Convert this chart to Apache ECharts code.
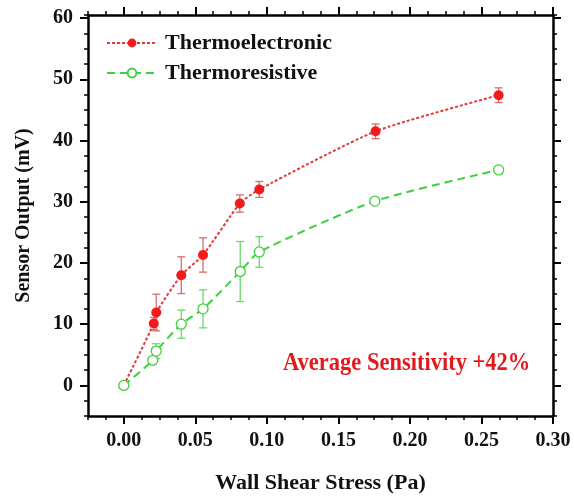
<!DOCTYPE html>
<html>
<head>
<meta charset="utf-8">
<script src="https://cdn.jsdelivr.net/npm/echarts@6/dist/echarts.min.js"></script>
<style>
  html, body { margin: 0; padding: 0; background: #fff; }
  #chart { width: 574px; height: 499px; }
</style>
</head>
<body>
<div id="chart"></div>
<script>
// Wall shear stress (Pa) for each measurement
const stressTE = [0, 0.021, 0.0227, 0.0402, 0.0554, 0.0811, 0.0947, 0.176, 0.262];
const outputTE = [0, 10.1, 11.9, 18.0, 21.3, 29.7, 32.0, 41.5, 47.4];
const errTE    = [0, 1.0, 3.0, 3.0, 2.8, 1.4, 1.3, 1.2, 1.2];

const stressTR = [0, 0.0203, 0.0227, 0.0402, 0.0554, 0.0814, 0.0947, 0.1755, 0.262];
const outputTR = [0, 4.1, 5.6, 10.0, 12.5, 18.6, 21.8, 30.1, 35.2];
const errTR    = [0, 0.5, 1.2, 2.3, 3.1, 4.9, 2.5, 0.4, 0.4];

const xTicks = [0, 0.05, 0.10, 0.15, 0.20, 0.25, 0.30];
const yTicks = [0, 10, 20, 30, 40, 50, 60];

const FONT = '"Liberation Serif", "Times New Roman", serif';
const X_MIN = -0.025, X_MAX = 0.3, Y_MIN = -5, Y_MAX = 60.5;

const pairs = (xs, ys) => xs.map((x, i) => [x, ys[i]]);
const errRows = (xs, ys, es) => xs.map((x, i) => [x, ys[i] - es[i], ys[i] + es[i]]);

function errorBar(color) {
  return function (params, api) {
    const x = api.value(0);
    const lo = api.coord([x, api.value(1)]);
    const hi = api.coord([x, api.value(2)]);
    const cap = 4;
    const style = { stroke: color, lineWidth: 1.3, fill: null };
    return {
      type: 'group',
      children: [
        { type: 'line', shape: { x1: lo[0], y1: lo[1], x2: hi[0], y2: hi[1] }, style },
        { type: 'line', shape: { x1: lo[0] - cap, y1: lo[1], x2: lo[0] + cap, y2: lo[1] }, style },
        { type: 'line', shape: { x1: hi[0] - cap, y1: hi[1], x2: hi[0] + cap, y2: hi[1] }, style }
      ]
    };
  };
}

const frameLine = { show: true, onZero: false, lineStyle: { color: '#000', width: 2.5 } };
const hiddenLine = { show: false, onZero: false };
const labelStyle = { color: '#111', fontFamily: FONT, fontWeight: 'bold', fontSize: 20 };
const titleStyle = { color: '#111', fontFamily: FONT, fontWeight: 'bold' };

// Each frame side: one axis carrying the minor ticks, one overlay carrying the major ticks
function xPair(position, withLabels) {
  return [
    {
      type: 'value', gridIndex: 0, position, min: X_MIN, max: X_MAX, interval: 0.0125,
      axisLine: frameLine, splitLine: { show: false },
      axisTick: { show: true, inside: false, length: 4, lineStyle: { color: '#000', width: 1.5 } },
      axisLabel: withLabels
        ? Object.assign({ show: true, margin: 15, customValues: xTicks, formatter: v => v.toFixed(2) }, labelStyle)
        : { show: false },
      name: withLabels ? 'Wall Shear Stress (Pa)' : '',
      nameLocation: 'middle', nameGap: 56,
      nameTextStyle: Object.assign({ fontSize: 22 }, titleStyle)
    },
    {
      type: 'value', gridIndex: 0, position, min: X_MIN, max: X_MAX,
      axisLine: hiddenLine, splitLine: { show: false },
      axisTick: { show: true, inside: false, length: 8, customValues: xTicks, lineStyle: { color: '#000', width: 2 } },
      axisLabel: { show: false }
    }
  ];
}

function yPair(position, withLabels) {
  return [
    {
      type: 'value', gridIndex: 0, position, min: Y_MIN, max: Y_MAX, interval: 2.5,
      axisLine: frameLine, splitLine: { show: false },
      axisTick: { show: true, inside: false, length: 4, lineStyle: { color: '#000', width: 1.5 } },
      axisLabel: withLabels
        ? Object.assign({ show: true, margin: 15, customValues: yTicks }, labelStyle)
        : { show: false },
      name: withLabels ? 'Sensor Output (mV)' : '',
      nameLocation: 'middle', nameGap: 54, nameRotate: 90,
      nameTextStyle: Object.assign({ fontSize: 20 }, titleStyle)
    },
    {
      type: 'value', gridIndex: 0, position, min: Y_MIN, max: Y_MAX,
      axisLine: hiddenLine, splitLine: { show: false },
      axisTick: { show: true, inside: false, length: 8, customValues: yTicks, lineStyle: { color: '#000', width: 2 } },
      axisLabel: { show: false }
    }
  ];
}

const RED = '#f21b1b';
const GREEN = '#3fd03f';

const chart = echarts.init(document.getElementById('chart'), null, { renderer: 'canvas' });
chart.setOption({
  animation: false,
  backgroundColor: '#fff',
  grid: { left: 88, right: 21, top: 15, bottom: 79, containLabel: false },
  xAxis: [...xPair('bottom', true), ...xPair('top', false)],
  yAxis: [...yPair('left', true), ...yPair('right', false)],
  legend: {
    left: 101, top: 27, orient: 'vertical', itemWidth: 50, itemHeight: 11, itemGap: 8,
    textStyle: { color: '#111', fontFamily: FONT, fontWeight: 'bold', fontSize: 22, lineHeight: 22, padding: [0, 0, 0, 3] },
    data: ['Thermoelectronic', 'Thermoresistive']
  },
  graphic: [{
    type: 'text', x: 283, y: 363, scaleY: 1.12,
    style: { text: 'Average Sensitivity +42%', fill: '#e3191b', font: 'bold 22.5px ' + FONT, verticalAlign: 'middle' }
  }],
  series: [
    {
      type: 'custom', name: 'errTE', xAxisIndex: 0, yAxisIndex: 0,
      renderItem: errorBar('#e06a6a'), data: errRows(stressTE, outputTE, errTE), z: 2,
      encode: { x: 0, y: [1, 2] }
    },
    {
      type: 'custom', name: 'errTR', xAxisIndex: 0, yAxisIndex: 0,
      renderItem: errorBar('#6ad86a'), data: errRows(stressTR, outputTR, errTR), z: 2,
      encode: { x: 0, y: [1, 2] }
    },
    {
      type: 'line', name: 'Thermoelectronic', xAxisIndex: 0, yAxisIndex: 0,
      data: pairs(stressTE, outputTE), smooth: 0.2, z: 3,
      symbol: 'circle', symbolSize: 10,
      itemStyle: { color: RED },
      lineStyle: { color: '#e23a3a', width: 2, type: [3, 2] }
    },
    {
      type: 'line', name: 'Thermoresistive', xAxisIndex: 0, yAxisIndex: 0,
      data: pairs(stressTR, outputTR), smooth: 0.2, z: 4,
      symbol: 'circle', symbolSize: 10,
      itemStyle: { color: '#fff', borderColor: GREEN, borderWidth: 1.3 },
      lineStyle: { color: GREEN, width: 2, type: [8, 5] }
    }
  ]
});
</script>
</body>
</html>
